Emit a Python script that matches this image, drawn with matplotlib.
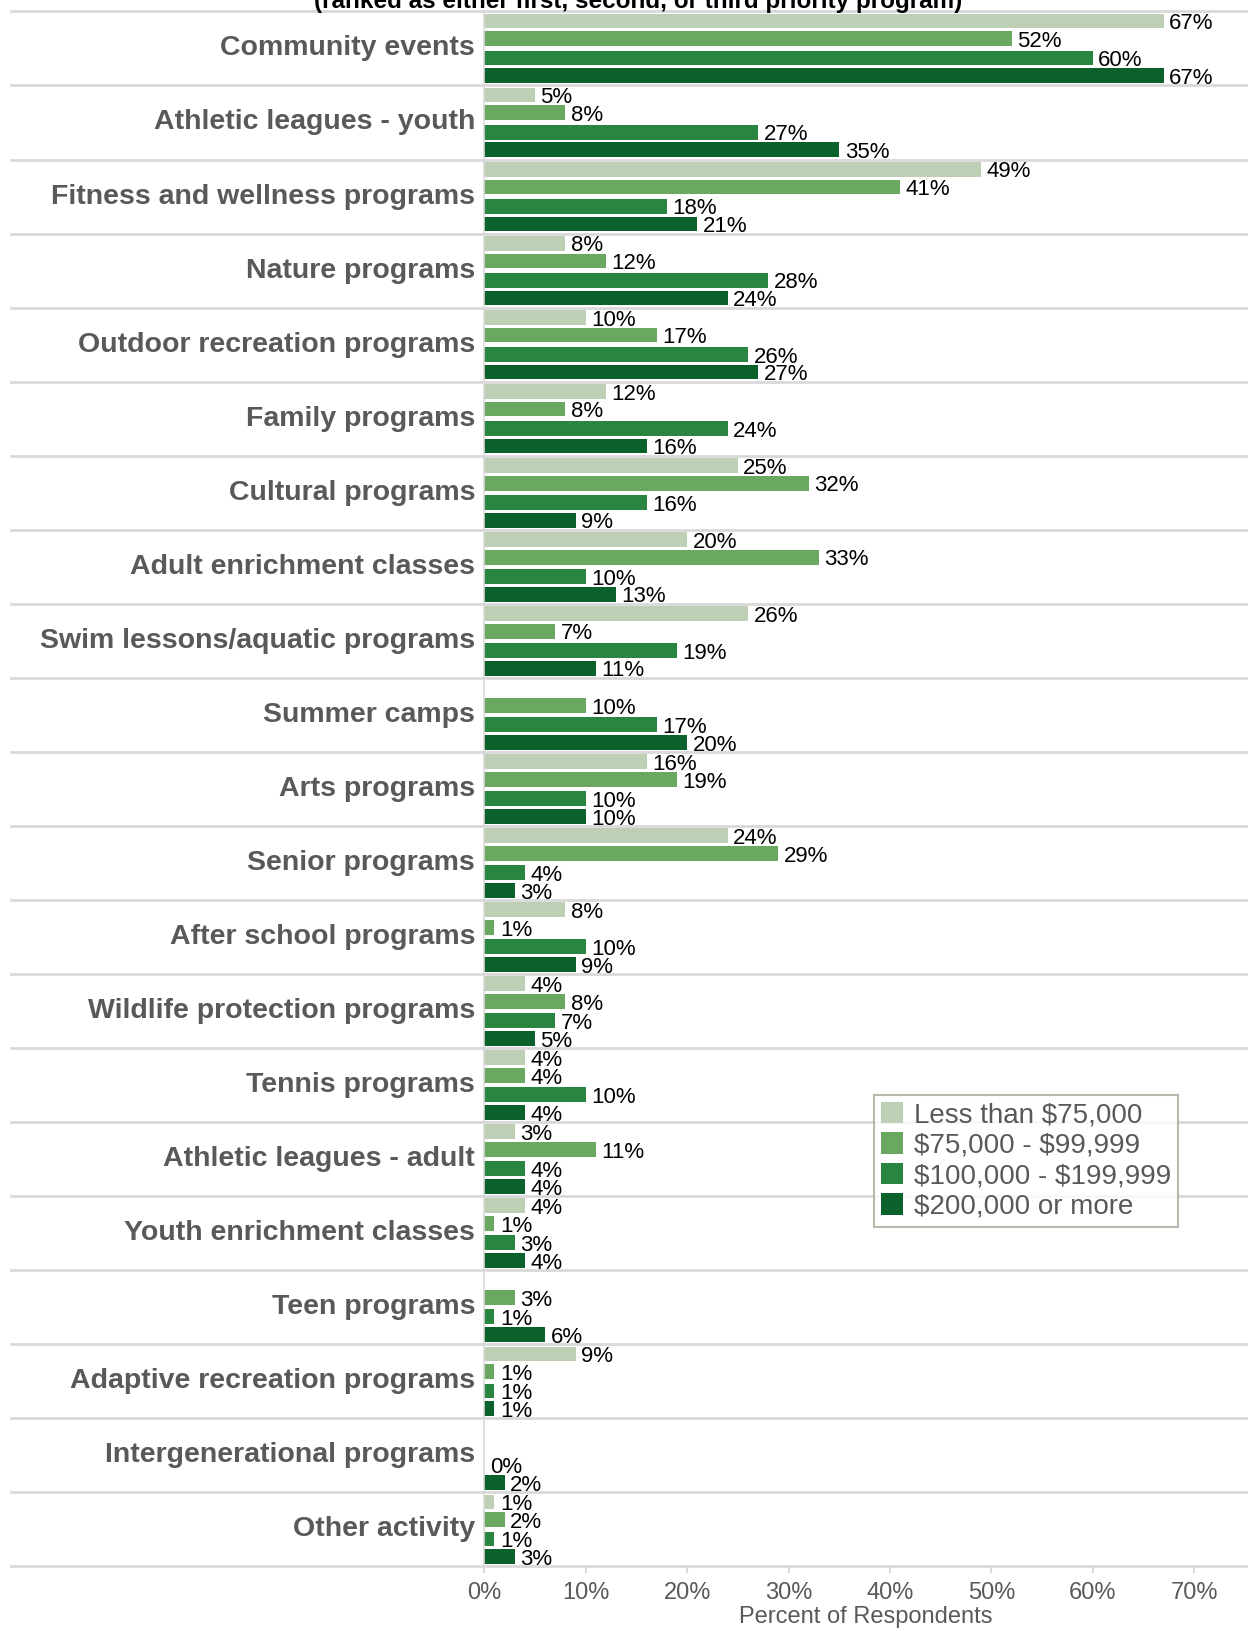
import numpy as np
import matplotlib
matplotlib.use('Agg')
import matplotlib.pyplot as plt
from matplotlib.patches import Patch
from matplotlib.lines import Line2D

programs = ['Community events', 'Athletic leagues - youth', 'Fitness and wellness programs',
            'Nature programs', 'Outdoor recreation programs', 'Family programs',
            'Cultural programs', 'Adult enrichment classes', 'Swim lessons/aquatic programs',
            'Summer camps', 'Arts programs', 'Senior programs', 'After school programs',
            'Wildlife protection programs', 'Tennis programs', 'Athletic leagues - adult',
            'Youth enrichment classes', 'Teen programs', 'Adaptive recreation programs',
            'Intergenerational programs', 'Other activity']

income_groups = [r'Less than \$75,000', r'\$75,000 - \$99,999', r'\$100,000 - \$199,999', r'\$200,000 or more']

nan = np.nan
under_75k = [67, 5, 49, 8, 10, 12, 25, 20, 26, nan, 16, 24, 8, 4, 4, 3, 4, nan, 9, nan, 1]
from_75k = [52, 8, 41, 12, 17, 8, 32, 33, 7, 10, 19, 29, 1, 8, 4, 11, 1, 3, 1, nan, 2]
from_100k = [60, 27, 18, 28, 26, 24, 16, 10, 19, 17, 10, 4, 10, 7, 10, 4, 3, 1, 1, 0, 1]
over_200k = [67, 35, 21, 24, 27, 16, 9, 13, 11, 20, 10, 3, 9, 5, 4, 4, 4, 6, 1, 2, 3]

colors = ['#bdd0b5', '#6aa862', '#2a8541', '#0a612c']
grey = '#595959'
narrow = ['Liberation Sans Narrow', 'Liberation Sans', 'DejaVu Sans']

fig = plt.figure(figsize=(12.48, 16.30), dpi=100)
ax = fig.add_axes([0.388, 0.039, 0.612, 0.954])

series = [under_75k, from_75k, from_100k, over_200k]
offsets = [-0.37, -0.13, 0.13, 0.37]
y = np.arange(len(programs))
for vals, off, col, lab in zip(series, offsets, colors, income_groups):
    v = np.array(vals, dtype=float)
    ax.barh(y + off, np.nan_to_num(v), height=0.2, color=col, label=lab)
    for yi, val in zip(y, v):
        if np.isnan(val):
            continue
        ax.annotate(f'{int(val)}%', (val, yi + off),
                    xytext=(4, -2), textcoords='offset points',
                    va='center', ha='left', fontsize=16, family=narrow, color='black')

ax.set_xlim(0, 75.3)
ax.set_ylim(len(programs) - 0.5, -0.5)
ax.set_yticks([])
ax.set_xticks(np.arange(0, 71, 10))
ax.set_xticklabels([f'{t}%' for t in range(0, 71, 10)], family=narrow, fontsize=17, color=grey)
ax.tick_params(axis='x', length=5, color='#d9d9d9', width=1.5, pad=6)

for s in ['top', 'right', 'bottom']:
    ax.spines[s].set_visible(False)
ax.spines['left'].set_color('#d9d9d9')
ax.spines['left'].set_linewidth(1.2)

# row separators run across into the label area
for b in np.arange(-0.5, len(programs), 1.0):
    ax.add_line(Line2D([-0.62, 1.0], [b, b], transform=ax.get_yaxis_transform(),
                       color='#d9d9d9', lw=2, clip_on=False, zorder=0))

for yi, name in zip(y, programs):
    ax.text(-0.012, yi, name, transform=ax.get_yaxis_transform(), ha='right', va='center',
            fontsize=20.5, fontweight='bold', color=grey, family=narrow)

ax.set_xlabel('Percent of Respondents', family=narrow, fontsize=17, color=grey, labelpad=2)

fig.text(0.511, 1 - 8 / 1630, '(ranked as either first, second, or third priority program)',
         ha='center', va='baseline', fontsize=17.5, fontweight='bold', family=narrow, color='black')

handles = [Patch(facecolor=c, edgecolor='none') for c in colors]
leg = fig.legend(handles, income_groups, loc='upper left', bbox_to_anchor=(874 / 1248, 1 - 1095 / 1630),
                 fontsize=20, frameon=True, fancybox=False, handlelength=0.8, handleheight=0.8,
                 handletextpad=0.4, labelspacing=0.15, borderpad=0.25, borderaxespad=0)
leg.get_frame().set_edgecolor('#a8a898')
leg.get_frame().set_linewidth(1.5)
for t in leg.get_texts():
    t.set_color(grey)
    t.set_family(['Liberation Sans', 'DejaVu Sans'])

fig.savefig('out.png', dpi=100)
